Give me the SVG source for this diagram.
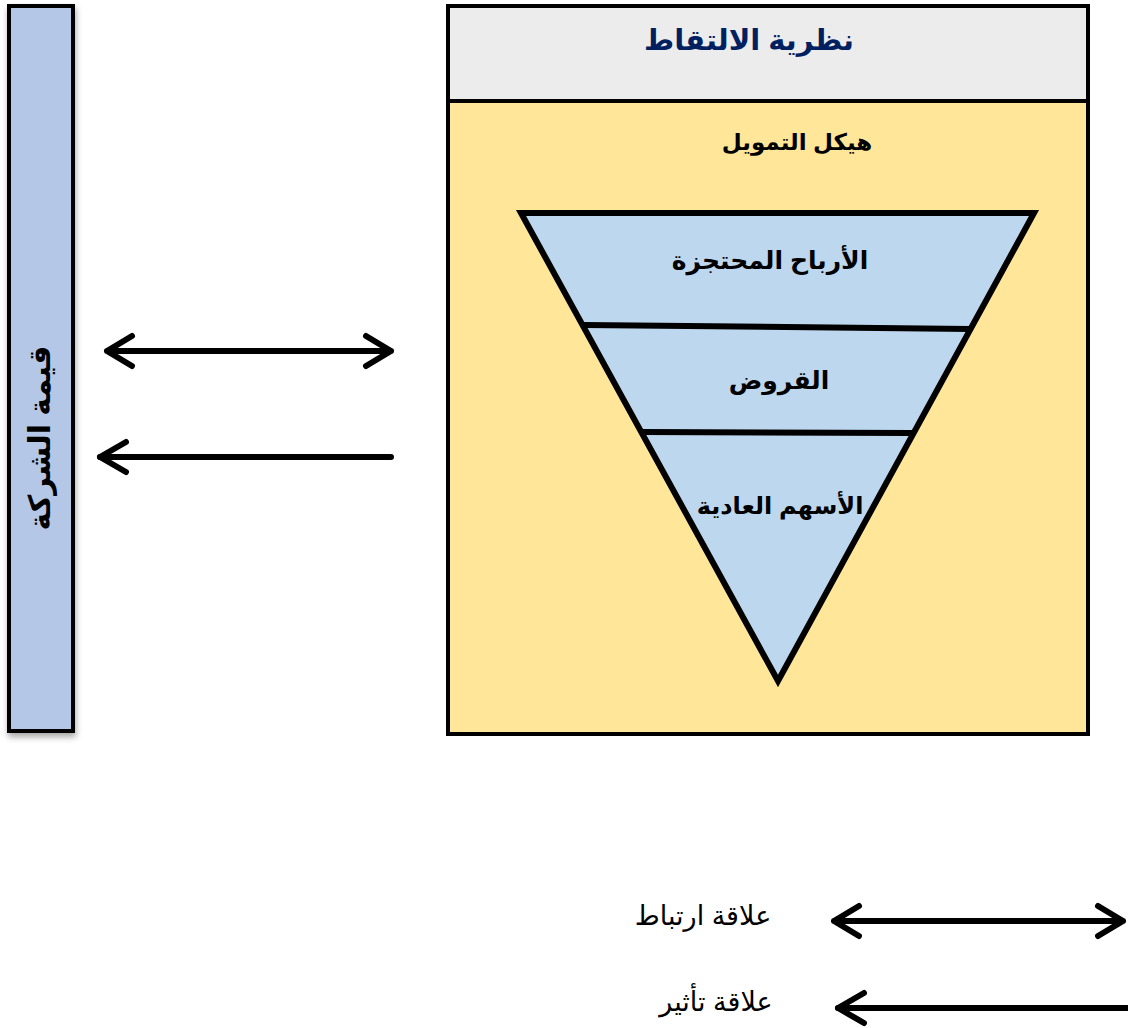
<svg xmlns="http://www.w3.org/2000/svg" width="1128" height="1028" viewBox="0 0 1128 1028">
<style>
.t{font-family:"Liberation Sans","DejaVu Sans",sans-serif;font-weight:bold;text-anchor:middle;direction:rtl}
.n{font-family:"Liberation Sans","DejaVu Sans",sans-serif;text-anchor:middle;direction:rtl;font-size:27px}
.arr{stroke:#000;stroke-width:6;fill:none;stroke-linecap:round;stroke-linejoin:round}
.ln{stroke:#000;stroke-width:6;fill:none}
</style>
<defs>
<filter id="sh" x="-20%" y="-5%" width="140%" height="110%">
<feGaussianBlur in="SourceAlpha" stdDeviation="3"/>
<feOffset dx="1" dy="4"/>
<feComponentTransfer><feFuncA type="linear" slope="0.35"/></feComponentTransfer>
<feMerge><feMergeNode/><feMergeNode in="SourceGraphic"/></feMerge>
</filter>
</defs>
<rect width="1128" height="1028" fill="#fff"/>
<g id="company-value">
<rect x="9" y="6" width="64" height="725" fill="#b4c7e7" stroke="#000" stroke-width="4" filter="url(#sh)"/>
<text class="t" font-size="30" transform="translate(50,438) rotate(-90)">قيمة الشركة</text>
</g>
<g id="pecking-order">
<rect x="448" y="6" width="640" height="728" fill="#ffe699" stroke="#000" stroke-width="4"/>
<rect x="448" y="6" width="640" height="95" fill="#ececec" stroke="#000" stroke-width="4"/>
<text class="t" font-size="29" fill="#002060" x="749" y="50">نظرية الالتقاط</text>
<text class="t" font-size="23" fill="#000" x="797" y="150">هيكل التمويل</text>
</g>
<g id="pyramid">
<polygon points="521,213 1034,213 778,681" fill="#bdd7ee" stroke="#000" stroke-width="6" stroke-linejoin="miter"/>
<line class="ln" x1="584" y1="325" x2="970" y2="329"/>
<line class="ln" x1="642" y1="432" x2="912" y2="433"/>
<text class="t" font-size="25" x="770" y="269">الأرباح المحتجزة</text>
<text class="t" font-size="25" x="779" y="389">القروض</text>
<text class="t" font-size="24" x="780" y="514">الأسهم العادية</text>
</g>
<g id="connectors">
<path class="arr" d="M107,351 H391 M132,336 L107,351 L132,366 M366,336 L391,351 L366,366"/>
<path class="arr" d="M100,457 H391" stroke-linecap="butt"/>
<path class="arr" d="M126,442 L100,457 L126,472"/>
<path class="arr" d="M834,921 H1123 M859,906 L834,921 L859,936 M1098,906 L1123,921 L1098,936"/>
<path class="arr" d="M838,1008 H1128" stroke-linecap="butt"/>
<path class="arr" d="M864,993 L838,1008 L864,1023"/>
</g>
<g id="legend">
<text class="n" x="703" y="925">علاقة ارتباط</text>
<text class="n" x="716" y="1011">علاقة تأثير</text>
</g>
</svg>
